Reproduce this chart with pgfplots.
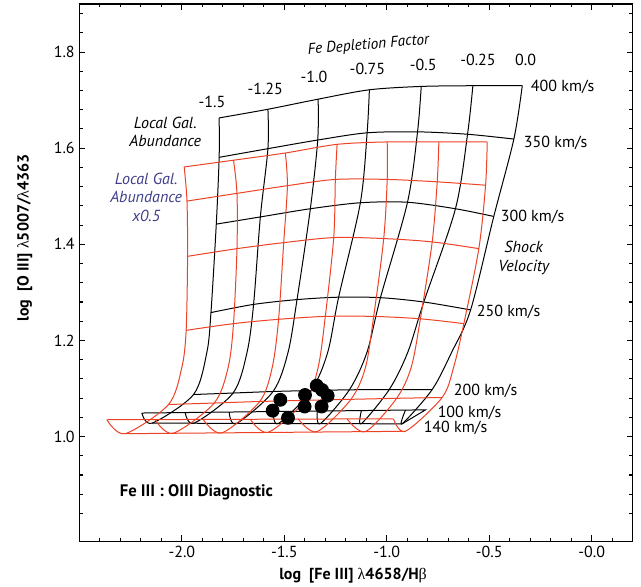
\documentclass[border=0pt]{standalone}
\usepackage{fontspec}
\setmainfont{PT Sans}
\newfontfamily\grk{Liberation Serif}
\usepackage{pgfplots}
\pgfplotsset{compat=1.18}
\definecolor{redgrid}{RGB}{238,66,38}
\definecolor{bluetxt}{RGB}{62,62,140}
\newcommand{\fs}{\fontsize{12}{14}\selectfont}
\begin{document}
\begin{tikzpicture}
\useasboundingbox (-59.5pt,-33.75pt) rectangle (421pt,405.8pt);
\begin{axis}[
  scale only axis, width=414.8pt, height=402.8pt,
  xmin=-2.5, xmax=0.2, ymin=0.782, ymax=1.9,
  xtick={-2,-1.5,-1,-0.5,0}, xticklabels={-2.0,-1.5,-1.0,-0.5,-0.0},
  minor xtick={-2.4,-2.3,-2.2,-2.1,-1.9,-1.8,-1.7,-1.6,-1.4,-1.3,-1.2,-1.1,-0.9,-0.8,-0.7,-0.6,-0.4,-0.3,-0.2,-0.1,0.1},
  ytick={1.0,1.2,1.4,1.6,1.8}, yticklabels={1.0,1.2,1.4,1.6,1.8},
  minor ytick={0.84,0.88,0.92,0.96,1.04,1.08,1.12,1.16,1.24,1.28,1.32,1.36,1.44,1.48,1.52,1.56,1.64,1.68,1.72,1.76,1.84,1.88},
  tick align=inside, major tick length=4.5pt, minor tick length=2.5pt,
  tick style={black, line width=0.8pt},
  axis line style={line width=1pt},
  tick label style={font=\fs},
  clip=false,
  every axis plot/.append style={line width=0.75pt},
]
%% ---------- black grid: Local Gal. Abundance ----------
% depletion curves (400,350,300,250,mid,200,140,100 km/s)
\addplot[black, smooth] coordinates {(-1.818,1.663) (-1.818,1.581) (-1.832,1.442) (-1.858,1.258) (-1.878,1.175) (-1.943,1.0875) (-2.145,1.028) (-2.195,1.049)};
\addplot[black, smooth] coordinates {(-1.580,1.681) (-1.580,1.599) (-1.617,1.457) (-1.650,1.275) (-1.682,1.175) (-1.750,1.0906) (-1.940,1.028) (-1.984,1.050)};
\addplot[black, smooth] coordinates {(-1.335,1.702) (-1.337,1.617) (-1.373,1.474) (-1.438,1.285) (-1.482,1.175) (-1.555,1.0938) (-1.7345,1.027) (-1.769,1.051)};
\addplot[black, smooth] coordinates {(-1.085,1.7215) (-1.096,1.632) (-1.129,1.4865) (-1.235,1.290) (-1.2885,1.175) (-1.369,1.0958) (-1.529,1.027) (-1.554,1.052)};
\addplot[black, smooth] coordinates {(-0.832,1.7285) (-0.850,1.634) (-0.899,1.4875) (-1.031,1.289) (-1.097,1.175) (-1.1825,1.0973) (-1.324,1.027) (-1.339,1.053)};
\addplot[black, smooth] coordinates {(-0.580,1.730) (-0.606,1.629) (-0.665,1.474) (-0.8195,1.280) (-0.898,1.175) (-0.988,1.0979) (-1.124,1.027) (-1.124,1.054)};
\addplot[black, smooth] coordinates {(-0.339,1.730) (-0.380,1.619) (-0.478,1.458) (-0.591,1.2635) (-0.684,1.175) (-0.7785,1.0979) (-0.925,1.0265) (-0.909,1.055)};
% velocity lines
\addplot[black, smooth] coordinates {(-1.818,1.663) (-1.580,1.681) (-1.335,1.702) (-1.085,1.7215) (-0.832,1.7285) (-0.580,1.730) (-0.339,1.730)};
\addplot[black, smooth] coordinates {(-1.818,1.581) (-1.580,1.599) (-1.337,1.617) (-1.096,1.632) (-0.850,1.634) (-0.606,1.629) (-0.380,1.619)};
\addplot[black, smooth] coordinates {(-1.832,1.442) (-1.617,1.457) (-1.373,1.474) (-1.129,1.4865) (-0.899,1.4875) (-0.665,1.474) (-0.478,1.458)};
\addplot[black, smooth] coordinates {(-1.858,1.258) (-1.650,1.275) (-1.438,1.285) (-1.235,1.290) (-1.031,1.289) (-0.8195,1.280) (-0.591,1.2635)};
\addplot[black, smooth] coordinates {(-1.943,1.0875) (-1.750,1.0906) (-1.555,1.0938) (-1.369,1.0958) (-1.1825,1.0973) (-0.988,1.0979) (-0.7785,1.0979)};
\addplot[black] coordinates {(-2.145,1.028) (-0.925,1.0265)};
\addplot[black] coordinates {(-2.195,1.049) (-0.811,1.0556) (-0.925,1.0265)};
%% ---------- red grid: Local Gal. Abundance x0.5 ----------
\addplot[redgrid, smooth] coordinates {(-1.9885,1.561) (-1.975,1.490) (-1.972,1.375) (-1.979,1.221) (-2.000,1.144) (-2.065,1.0667) (-2.277,1.006) (-2.366,1.035)};
\addplot[redgrid, smooth] coordinates {(-1.748,1.575) (-1.731,1.506) (-1.731,1.391) (-1.748,1.235) (-1.774,1.144) (-1.842,1.0698) (-2.042,1.007) (-2.130,1.035)};
\addplot[redgrid, smooth] coordinates {(-1.495,1.590) (-1.485,1.522) (-1.503,1.4035) (-1.528,1.244) (-1.559,1.144) (-1.620,1.073) (-1.804,1.0077) (-1.896,1.0355)};
\addplot[redgrid, smooth] coordinates {(-1.2425,1.608) (-1.251,1.535) (-1.259,1.414) (-1.300,1.250) (-1.335,1.144) (-1.397,1.0754) (-1.578,1.009) (-1.666,1.036)};
\addplot[redgrid, smooth] coordinates {(-0.998,1.613) (-0.998,1.535) (-1.015,1.412) (-1.064,1.250) (-1.104,1.144) (-1.175,1.0775) (-1.340,1.0104) (-1.432,1.0365)};
\addplot[redgrid, smooth] coordinates {(-0.746,1.613) (-0.754,1.530) (-0.7785,1.405) (-0.836,1.245) (-0.881,1.144) (-0.952,1.0796) (-1.104,1.0104) (-1.194,1.037)};
\addplot[redgrid, smooth] coordinates {(-0.510,1.613) (-0.518,1.523) (-0.551,1.391) (-0.624,1.235) (-0.674,1.144) (-0.730,1.0813) (-0.909,1.011) (-0.9675,1.037)};
\addplot[redgrid, smooth] coordinates {(-1.9885,1.561) (-1.748,1.575) (-1.495,1.590) (-1.2425,1.608) (-0.998,1.613) (-0.746,1.613) (-0.510,1.613)};
\addplot[redgrid, smooth] coordinates {(-1.975,1.490) (-1.731,1.506) (-1.485,1.522) (-1.251,1.535) (-0.998,1.535) (-0.754,1.530) (-0.518,1.523)};
\addplot[redgrid, smooth] coordinates {(-1.972,1.375) (-1.731,1.391) (-1.503,1.4035) (-1.259,1.414) (-1.015,1.412) (-0.7785,1.405) (-0.551,1.391)};
\addplot[redgrid, smooth] coordinates {(-1.979,1.221) (-1.748,1.235) (-1.528,1.244) (-1.300,1.250) (-1.064,1.250) (-0.836,1.245) (-0.624,1.235)};
\addplot[redgrid, smooth] coordinates {(-2.065,1.0667) (-1.842,1.0698) (-1.620,1.073) (-1.397,1.0754) (-1.175,1.0775) (-0.952,1.0796) (-0.730,1.0813)};
\addplot[redgrid] coordinates {(-2.277,1.006) (-0.909,1.011)};
\addplot[redgrid] coordinates {(-2.366,1.035) (-0.9675,1.037)};
%% ---------- observations ----------
\addplot[only marks, mark=*, mark size=4.8pt, black] coordinates {
 (-1.5195,1.0765) (-1.557,1.054) (-1.482,1.039) (-1.399,1.0865) (-1.401,1.0625)
 (-1.342,1.106) (-1.316,1.097) (-1.2885,1.085) (-1.318,1.0625)};
%% ---------- annotations ----------
\node[font=\fontsize{11.5}{14}\selectfont\itshape, rotate=5, inner sep=0pt] at (axis cs:-1.0896,1.814) {Fe Depletion Factor};
\node[font=\fs, inner sep=0.5pt] at (axis cs:-1.853,1.6965) {-1.5};
\node[font=\fs, inner sep=0.5pt] at (axis cs:-1.593,1.724) {-1.25};
\node[font=\fs, inner sep=0.5pt] at (axis cs:-1.355,1.7485) {-1.0};
\node[font=\fs, inner sep=0.5pt] at (axis cs:-1.0945,1.766) {-0.75};
\node[font=\fs, inner sep=0.5pt] at (axis cs:-0.822,1.773) {-0.5};
\node[font=\fs, inner sep=0.5pt] at (axis cs:-0.555,1.783) {-0.25};
\node[font=\fs, inner sep=0.5pt] at (axis cs:-0.3227,1.783) {0.0};
\node[font=\fs, anchor=west, inner sep=0pt] at (axis cs:-0.298,1.727) {400 km/s};
\node[font=\fs, anchor=west, inner sep=0pt] at (axis cs:-0.332,1.610) {350 km/s};
\node[font=\fs, anchor=west, inner sep=0pt] at (axis cs:-0.445,1.458) {300 km/s};
\node[font=\fs\itshape, align=center] at (axis cs:-0.332,1.371) {Shock\\Velocity};
\node[font=\fs, anchor=west, inner sep=0pt] at (axis cs:-0.562,1.260) {250 km/s};
\node[font=\fs, anchor=west, inner sep=0pt] at (axis cs:-0.674,1.095) {200 km/s};
\node[font=\fs, anchor=west, inner sep=0pt] at (axis cs:-0.7526,1.049) {100 km/s};
\node[font=\fs, anchor=west, inner sep=0pt] at (axis cs:-0.821,1.0188) {140 km/s};
\node[font=\fs\itshape, align=center] at (axis cs:-2.081,1.634) {Local Gal.\\Abundance};
\node[font=\fs\itshape, align=center, text=bluetxt] at (axis cs:-2.174,1.498) {Local Gal.\\Abundance\\x0.5};
\node[font=\fontsize{12.5}{14}\selectfont\bfseries, anchor=west, inner sep=0pt] at (axis cs:-2.304,0.883) {Fe III : OIII Diagnostic};
\node[font=\fs\bfseries] at (rel axis cs:0.4946,0) [yshift=-25.5pt] {log\ \ [Fe III] {\mdseries\grk λ}4658/H{\mdseries\grk β}};
\node[font=\fs\bfseries, xshift=-41pt, rotate=90] at (rel axis cs:0,0.565) {log\ \ [O III] {\mdseries\grk λ}5007/{\mdseries\grk λ}4363};
\end{axis}
\end{tikzpicture}
\end{document}
